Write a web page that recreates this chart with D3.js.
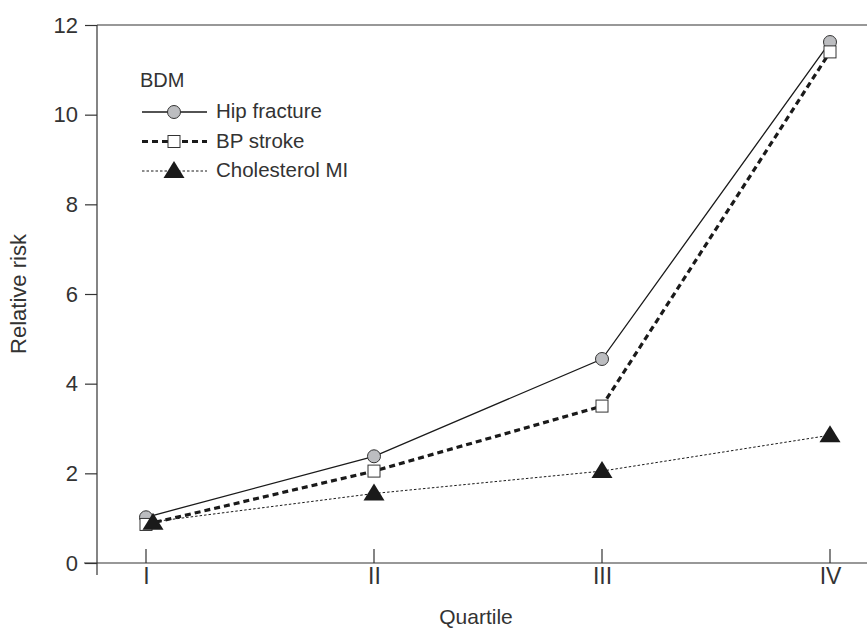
<!DOCTYPE html>
<html>
<head>
<meta charset="utf-8">
<script src="https://cdn.jsdelivr.net/npm/d3@7"></script>
<style>
  body { margin: 0; background: #fff; }
  svg text { font-family: "Liberation Sans", Arial, sans-serif; fill: #333; }
</style>
</head>
<body>
<div id="chart"></div>
<script>
// data
const quartiles = ["I", "II", "III", "IV"];
const hipFracture = [1.02, 2.38, 4.55, 11.62];
const bpStroke = [0.86, 2.05, 3.5, 11.4];
const cholesterolMI = [0.9, 1.55, 2.05, 2.85];
const yTicks = [0, 2, 4, 6, 8, 10, 12];

const width = 867, height = 632;
const svg = d3.select("#chart").append("svg")
  .attr("width", width).attr("height", height);

// rozmery plochy grafu
const plotLeft = 97, plotTop = 25, plotBottom = 563;

const x = d3.scalePoint().domain(quartiles).range([146, 830]);
const y = d3.scaleLinear().domain([0, 12]).range([plotBottom, plotTop]);

const ink = "#333";

// ramecek - horni a osy
svg.append("line").attr("x1", plotLeft).attr("x2", width).attr("y1", plotTop).attr("y2", plotTop)
  .attr("stroke", ink).attr("stroke-width", 1.2);
svg.append("line").attr("x1", plotLeft).attr("x2", plotLeft).attr("y1", plotTop).attr("y2", plotBottom + 12)
  .attr("stroke", ink).attr("stroke-width", 1.2);
svg.append("line").attr("x1", plotLeft - 13).attr("x2", width).attr("y1", plotBottom).attr("y2", plotBottom)
  .attr("stroke", ink).attr("stroke-width", 1.2);

// y osa
const yAxis = svg.append("g").attr("transform", `translate(${plotLeft},0)`)
  .call(d3.axisLeft(y).tickValues(yTicks).tickSize(12).tickPadding(7));
yAxis.select(".domain").remove();
yAxis.selectAll("line").attr("stroke", ink).attr("stroke-width", 1.2);
yAxis.selectAll("text").attr("font-size", 22).style("fill", ink);

// x osa, carky nahoru
const xAxis = svg.append("g").attr("transform", `translate(0,${plotBottom})`)
  .call(d3.axisBottom(x).tickSize(0).tickPadding(5));
xAxis.select(".domain").remove();
xAxis.selectAll("text").attr("font-size", 23).style("fill", ink);
svg.append("g").selectAll("line").data(quartiles).join("line")
  .attr("x1", d => x(d)).attr("x2", d => x(d))
  .attr("y1", plotBottom).attr("y2", plotBottom - 14)
  .attr("stroke", ink).attr("stroke-width", 1.2);

// popisky os
svg.append("text").attr("transform", `translate(26,${(plotTop + plotBottom) / 2}) rotate(-90)`)
  .attr("text-anchor", "middle").attr("font-size", 22).text("Relative risk");
svg.append("text").attr("x", 476).attr("y", 624)
  .attr("text-anchor", "middle").attr("font-size", 21).text("Quartile");

const series = [
  { name: "Hip fracture", values: hipFracture, dash: null, width: 1.3, marker: "circle" },
  { name: "BP stroke", values: bpStroke, dash: "6,4", width: 3.2, marker: "square" },
  { name: "Cholesterol MI", values: cholesterolMI, dash: "2.5,2", width: 1, marker: "triangle" }
];

const line = d3.line().x((d, i) => x(quartiles[i])).y(d => y(d));

function drawMarker(g, type, cx, cy) {
  if (type === "circle") {
    g.append("circle").attr("cx", cx).attr("cy", cy).attr("r", 6.5)
      .attr("fill", "#bcbdc0").attr("stroke", ink).attr("stroke-width", 1);
  } else if (type === "square") {
    g.append("rect").attr("x", cx - 6).attr("y", cy - 6).attr("width", 12).attr("height", 12)
      .attr("fill", "#fff").attr("stroke", ink).attr("stroke-width", 1);
  } else {
    g.append("path").attr("d", `M${cx},${cy - 10}L${cx + 10.5},${cy + 7}L${cx - 10.5},${cy + 7}Z`)
      .attr("fill", "#1a1a1a");
  }
}

series.forEach(s => {
  svg.append("path").datum(s.values).attr("d", line)
    .attr("fill", "none").attr("stroke", "#1a1a1a")
    .attr("stroke-width", s.width).attr("stroke-dasharray", s.dash);
});
// markery - trojuhelnik pres ostatni, jako v predloze
series.forEach(s => {
  const g = svg.append("g");
  s.values.forEach((v, i) => {
    const off = (s.marker === "triangle" && i === 0) ? 7 : 0;
    drawMarker(g, s.marker, x(quartiles[i]) + off, y(v));
  });
});

// legenda
svg.append("text").attr("x", 140).attr("y", 87).attr("font-size", 20).text("BDM");
series.forEach((s, i) => {
  const ly = 112 + i * 29.5;
  svg.append("line").attr("x1", 142).attr("x2", 207).attr("y1", ly).attr("y2", ly)
    .attr("stroke", "#1a1a1a").attr("stroke-width", s.width).attr("stroke-dasharray", s.dash);
  drawMarker(svg.append("g"), s.marker, 174, ly);
  svg.append("text").attr("x", 216).attr("y", ly + 6).attr("font-size", 20.5).text(s.name);
});
</script>
</body>
</html>
